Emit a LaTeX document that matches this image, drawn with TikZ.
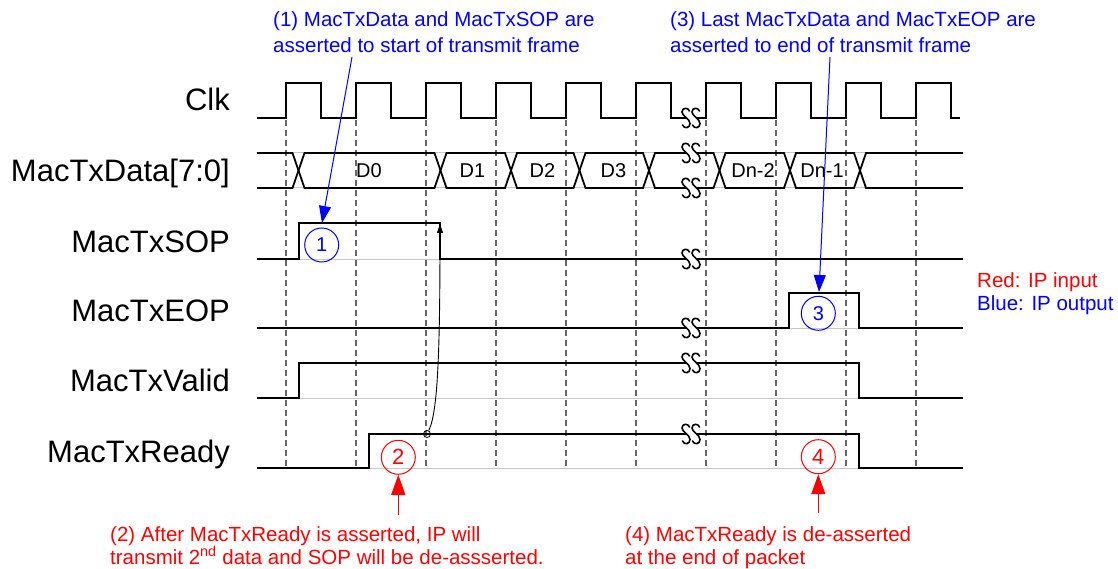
\documentclass[tikz,border=0pt]{standalone}
\usepackage{fontspec}
\setmainfont{Liberation Sans}
\usetikzlibrary{arrows.meta}
\definecolor{pblue}{RGB}{0,0,255}
\definecolor{pred}{RGB}{255,0,0}
\tikzset{
  sig/.style={line width=1.8pt, black, line join=miter},
  baseln/.style={line width=1pt, black!22},
  clkdash/.style={line width=1.4pt, black!60, dash pattern=on 6pt off 4pt},
  siglabel/.style={anchor=base east, inner sep=0pt, font=\fontsize{31}{36}\selectfont},
  ann/.style={anchor=base west, inner sep=0pt, font=\fontsize{20.5}{24}\selectfont},
  dlabel/.style={anchor=base, inner sep=0pt, font=\fontsize{20}{24}\selectfont},
  bcirc/.style={circle, draw=pblue, text=pblue, line width=1pt, minimum size=34pt, inner sep=0pt, font=\fontsize{20}{24}\selectfont},
  rcirc/.style={circle, draw=pred, text=pred, line width=1pt, minimum size=34pt, inner sep=0pt, font=\fontsize{22}{24}\selectfont},
  barrow/.style={pblue, line width=1pt, -{Triangle[length=17pt,width=12pt]}},
  rarrow/.style={pred, line width=1.3pt, -{Triangle[length=20pt,width=14pt]}},
  karrow/.style={black, line width=0.9pt, -{Triangle[length=9pt,width=6pt]}},
  esshape/.pic={
    \draw[line width=1.6pt, line cap=round] (3.5,-7) .. controls (2,-11) and (-4,-10.5) .. (-4,-6)
      .. controls (-4,-2) and (4,1) .. (4,5.5) .. controls (4,10.5) and (-2,11) .. (-3.5,7);
  },
  brk/.pic={
    \fill[white] (-5,-3) rectangle (5,3);
    \pic at (-5,0) {esshape};
    \pic at (5,0) {esshape};
  }
}
\begin{document}
\begin{tikzpicture}[x=1pt,y=-1pt]
\path[use as bounding box] (0,0) rectangle (1118,569);

% dashed clock edge lines
\foreach \k in {0,...,9}
  \draw[clkdash] ({286+70*\k},120) -- ({286+70*\k},468);

% grey baselines
\draw[baseln] (257,153) -- (963,153);
\draw[baseln] (257,188) -- (963,188);
\draw[baseln] (257,259) -- (963,259);
\draw[baseln] (257,328) -- (963,328);
\draw[baseln] (257,398) -- (963,398);
\draw[baseln] (257,468) -- (963,468);

% clock
\draw[sig] (257,118)
  \foreach \k in {0,...,9} { -- ({286+70*\k},118) -- ({286+70*\k},83) -- ({321+70*\k},83) -- ({321+70*\k},118) }
  -- (960,118);

% data bus
\draw[sig] (257,153) -- (292.5,153) -- (304.5,188) -- (434.5,188) -- (446.5,153) -- (505,153) -- (517,188)
  -- (573.5,188) -- (585.5,153) -- (643,153) -- (655,188) -- (713.5,188) -- (725.5,153) -- (784,153)
  -- (796,188) -- (854,188) -- (866,153) -- (963,153);
\draw[sig] (257,188) -- (292.5,188) -- (304.5,153) -- (434.5,153) -- (446.5,188) -- (505,188) -- (517,153)
  -- (573.5,153) -- (585.5,188) -- (643,188) -- (655,153) -- (713.5,153) -- (725.5,188) -- (784,188)
  -- (796,153) -- (854,153) -- (866,188) -- (963,188);

% SOP, EOP, Valid, Ready
\draw[sig] (257,259) -- (299,259) -- (299,223) -- (440,223) -- (440,259) -- (963,259);
\draw[sig] (257,328) -- (789,328) -- (789,293) -- (859,293) -- (859,328) -- (963,328);
\draw[sig] (257,398) -- (299,398) -- (299,363) -- (859,363) -- (859,398) -- (963,398);
\draw[sig] (257,468) -- (369,468) -- (369,434) -- (859,434) -- (859,468) -- (963,468);

% break marks
\foreach \yy in {118,153,188,259,328,363,434}
  \pic at (691,\yy) {brk};

% signal labels
\node[siglabel] (lclk) at (230,111) {Clk};
\node[siglabel] (ldata) at (230,182) {MacTxData[7:0]};
\node[siglabel] (lsop) at (230,252) {MacTxSOP};
\node[siglabel] (leop) at (230,321.5) {MacTxEOP};
\node[siglabel] (lvalid) at (230,391.5) {MacTxValid};
\node[siglabel] (lready) at (230,462) {MacTxReady};

% data labels
\node[dlabel] (d0) at (369,178) {D0};
\node[dlabel] (d1) at (472.5,178) {D1};
\node[dlabel] (d2) at (542.5,178) {D2};
\node[dlabel] (d3) at (613.5,178) {D3};
\node[dlabel] (dn2) at (753,178) {Dn-2};
\node[dlabel] (dn1) at (822,178) {Dn-1};

% circles
\node[bcirc] (c1) at (321.7,245) {1};
\node[bcirc] (c3) at (818.3,313.3) {3};
\node[rcirc] (c2) at (398.3,457.3) {2};
\node[rcirc] (c4) at (818.3,456.7) {4};

% annotations
\node[ann, text=pblue] (ann1a) at (273,27) {(1) MacTxData and MacTxSOP are};
\node[ann, text=pblue] (ann1b) at (273,53) {asserted to start of transmit frame};
\node[ann, text=pblue] (ann3a) at (670,27) {(3) Last MacTxData and MacTxEOP are};
\node[ann, text=pblue] (ann3b) at (670,53) {asserted to end of transmit frame};
\node[ann, text=pred] (ann2a) at (110,541) {(2) After MacTxReady is asserted, IP will};
\node[ann, text=pred] (ann2b) at (110,564) {transmit 2\textsuperscript{nd} data and SOP will be de-assserted.};
\node[ann, text=pred] (ann4a) at (625,541) {(4) MacTxReady is de-asserted};
\node[ann, text=pred] (ann4b) at (625,564) {at the end of packet};
\node[ann, text=pred] (leg1) at (977,287) {Red: IP input};
\node[ann, text=pblue] (leg2) at (977,310) {Blue: IP output};

% arrows
\coordinate (a1s) at (352,57);
\coordinate (a1e) at (322,223);
\draw[barrow] (a1s) -- (a1e);
\coordinate (a3s) at (830,57);
\coordinate (a3e) at (819,292);
\draw[barrow] (a3s) -- (a3e);
\coordinate (a2s) at (398.3,515);
\draw[rarrow] (a2s) -- (c2.south);
\coordinate (a4s) at (818.3,513);
\draw[rarrow] (a4s) -- (c4.south);

\node[circle, draw, line width=0.8pt, minimum size=7pt, inner sep=0pt] (rdot) at (427,434) {};
\coordinate (sopfall) at (440,224);
\draw[karrow] (rdot) .. controls (438,412) and (440,350) .. (sopfall);
\end{tikzpicture}
\end{document}
